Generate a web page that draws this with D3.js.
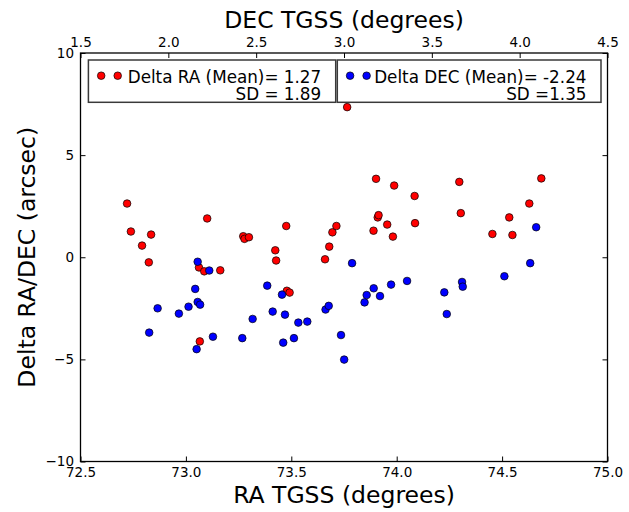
<!DOCTYPE html>
<html>
<head>
<meta charset="utf-8">
<title>Delta RA/DEC vs TGSS</title>
<script src="https://cdn.jsdelivr.net/npm/d3@7"></script>
<style>
  body { margin: 0; background: #fff; }
  svg text { font-family: "DejaVu Sans", sans-serif; fill: #000; }
</style>
</head>
<body>
<div id="chart"></div>
<script>
// RA offsets (red) plotted against RA, DEC offsets (blue) against DEC
var raRed = [72.721, 72.739, 72.792, 72.835, 72.824, 73.101, 73.062, 73.087, 73.163, 73.066,
             73.272, 73.278, 73.299, 73.424, 73.428, 73.476, 73.479, 73.492, 73.660, 73.680,
             73.695, 73.714, 73.765, 73.902, 73.988, 74.085, 73.910, 73.914, 73.890, 73.955,
             73.982, 74.087, 74.297, 74.304, 74.454, 74.534, 74.549, 74.629, 74.686];
var deltaRA = [2.63, 1.26, 0.57, 1.11, -0.25, 1.90, -0.50, -0.69, -0.64, -4.12,
               1.03, 0.90, 0.98, 0.34, -0.16, 1.53, -1.64, -1.73, -0.10, 0.52,
               1.22, 1.53, 7.35, 3.84, 3.51, 3.00, 1.95, 2.06, 1.30, 1.60,
               1.01, 1.67, 3.69, 2.16, 1.14, 1.95, 1.09, 2.63, 3.86];

var decBlue = [1.891, 1.939, 2.060, 2.115, 2.153, 2.167, 2.167, 2.181, 2.233, 2.161,
               2.254, 2.421, 2.480, 2.563, 2.594, 2.647, 2.664, 2.654, 2.715, 2.740,
               2.791, 2.895, 2.913, 2.983, 3.046, 3.001, 3.117, 3.129, 3.169, 3.205,
               3.268, 3.359, 3.571, 3.585, 3.672, 3.676, 3.913, 4.060, 4.094];
var deltaDEC = [-3.69, -2.50, -2.76, -2.42, -1.55, -0.22, -2.19, -2.32, -0.65, -4.50,
                -3.89, -3.96, -3.02, -1.39, -2.66, -1.83, -2.81, -4.18, -3.96, -3.20,
                -3.15, -2.56, -2.38, -3.81, -0.29, -5.01, -2.21, -1.85, -1.52, -1.90,
                -1.34, -1.16, -1.72, -2.78, -1.21, -1.44, -0.93, -0.29, 1.47];

var raTicks = [72.5, 73.0, 73.5, 74.0, 74.5, 75.0];
var decTicks = [1.5, 2.0, 2.5, 3.0, 3.5, 4.0, 4.5];
var yTicks = [-10, -5, 0, 5, 10];

var legendRA = ["Delta RA (Mean)= 1.27", "SD = 1.89"];
var legendDEC = ["Delta DEC (Mean)= -2.24", "SD =1.35"];

var W = 629, H = 512;
var pLeft = 80.5, pRight = 607.5, pTop = 53, pBottom = 461.5;

var svg = d3.select("#chart").append("svg")
    .attr("width", W)
    .attr("height", H);

var x = d3.scaleLinear().domain([72.5, 75.0]).range([pLeft, pRight]);
var xTop = d3.scaleLinear().domain([1.5, 4.5]).range([pLeft, pRight]);
var y = d3.scaleLinear().domain([-10, 10]).range([pBottom, pTop]);

var fmt1 = d3.format(".1f");

// axes, ticks pointing inward
var gx = svg.append("g").attr("transform", "translate(0," + pBottom + ")")
    .call(d3.axisBottom(x).tickValues(raTicks).tickFormat(fmt1)
          .tickSizeInner(-5).tickSizeOuter(0).tickPadding(6));
var gt = svg.append("g").attr("transform", "translate(0," + pTop + ")")
    .call(d3.axisTop(xTop).tickValues(decTicks).tickFormat(fmt1)
          .tickSizeInner(-5).tickSizeOuter(0).tickPadding(6.5));
var gy = svg.append("g").attr("transform", "translate(" + pLeft + ",0)")
    .call(d3.axisLeft(y).tickValues(yTicks).tickFormat(function(d) { return d < 0 ? "\u2212" + Math.abs(d) : d; })
          .tickSizeInner(-5).tickSizeOuter(0).tickPadding(6.5));
var gr = svg.append("g").attr("transform", "translate(" + pRight + ",0)")
    .call(d3.axisRight(y).tickValues(yTicks).tickFormat("")
          .tickSizeInner(-5).tickSizeOuter(0));

[gx, gt, gy, gr].forEach(function(g) {
  g.select(".domain").remove();
  g.selectAll(".tick line").attr("stroke", "#000").attr("stroke-width", 1);
  g.selectAll(".tick text").style("font-size", "13.5px").attr("fill", "#000");
});

// frame
svg.append("rect")
  .attr("x", pLeft).attr("y", pTop)
  .attr("width", pRight - pLeft).attr("height", pBottom - pTop)
  .attr("fill", "none").attr("stroke", "#000").attr("stroke-width", 1.3);

// points
var r = 3.8;
svg.append("g").selectAll("circle")
  .data(d3.zip(raRed, deltaRA))
  .enter().append("circle")
  .attr("cx", function(d) { return x(d[0]); })
  .attr("cy", function(d) { return y(d[1]); })
  .attr("r", r)
  .attr("fill", "#ff0000").attr("stroke", "#000").attr("stroke-width", 0.7);

svg.append("g").selectAll("circle")
  .data(d3.zip(decBlue, deltaDEC))
  .enter().append("circle")
  .attr("cx", function(d) { return xTop(d[0]); })
  .attr("cy", function(d) { return y(d[1]); })
  .attr("r", r)
  .attr("fill", "#0000ff").attr("stroke", "#000").attr("stroke-width", 0.7);

// legends
function legend(x0, x1, color, lines) {
  var g = svg.append("g");
  g.append("rect")
    .attr("x", x0).attr("y", 60).attr("width", x1 - x0).attr("height", 42.3)
    .attr("fill", "#fff").attr("stroke", "#3a3a3a").attr("stroke-width", 1.5);
  [x0 + 12.8, x0 + 29.3].forEach(function(cx) {
    g.append("circle").attr("cx", cx).attr("cy", 75.7).attr("r", r)
      .attr("fill", color).attr("stroke", "#000").attr("stroke-width", 0.7);
  });
  g.append("text").attr("x", x1 - 14.5).attr("y", 82.7)
    .attr("text-anchor", "end").style("font-size", "16.8px").text(lines[0]);
  g.append("text").attr("x", x1 - 14.5).attr("y", 100)
    .attr("text-anchor", "end").style("font-size", "16.8px").text(lines[1]);
}
legend(88.4, 335.7, "#ff0000", legendRA);
legend(337.3, 601, "#0000ff", legendDEC);

// axis labels
svg.append("text").attr("x", (pLeft + pRight) / 2).attr("y", 28)
  .attr("text-anchor", "middle").style("font-size", "23.5px").text("DEC TGSS (degrees)");
svg.append("text").attr("x", (pLeft + pRight) / 2).attr("y", 503)
  .attr("text-anchor", "middle").style("font-size", "23.5px").text("RA TGSS (degrees)");
svg.append("text")
  .attr("transform", "translate(35," + ((pTop + pBottom) / 2) + ") rotate(-90)")
  .attr("text-anchor", "middle").style("font-size", "23.5px").text("Delta RA/DEC (arcsec)");
</script>
</body>
</html>
